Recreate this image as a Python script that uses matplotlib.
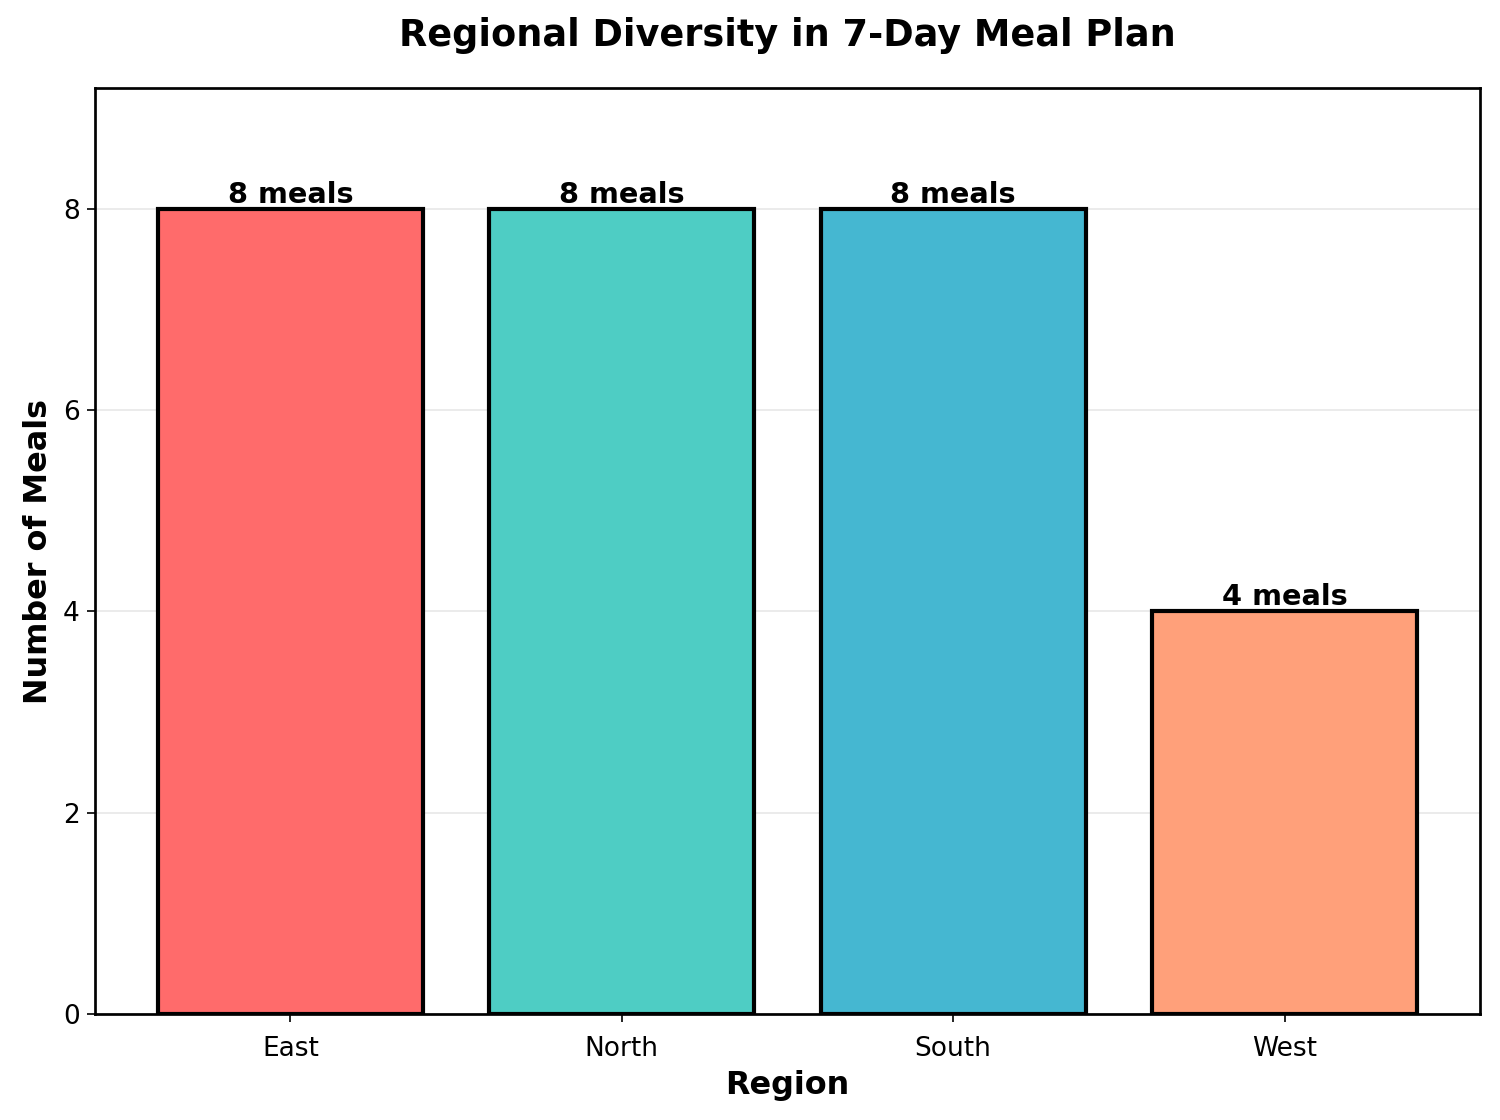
import numpy as np
import matplotlib
matplotlib.use("Agg")
import matplotlib.pyplot as plt

# data
regions = ["East", "North", "South", "West"]
meals = [8, 8, 8, 4]
colors = ["#FF6B6B", "#4ECDC4", "#45B7D1", "#FFA07A"]

fig, ax = plt.subplots(figsize=(10, 7.4667), dpi=150)
fig.subplots_adjust(left=0.0633, right=0.9867, top=0.9214, bottom=0.0946)

bars = ax.bar(regions, meals, color=colors, edgecolor="black", linewidth=2, width=0.8)

# labels on top of bars
for b, v in zip(bars, meals):
    ax.text(b.get_x() + b.get_width() / 2, b.get_height(), f"{v} meals",
            ha="center", va="bottom", fontsize=13.8, fontweight="bold")

ax.set_ylim(0, max(meals) * 1.15)
ax.set_title("Regional Diversity in 7-Day Meal Plan", fontsize=17.6, fontweight="bold", pad=20)
ax.set_xlabel("Region", fontsize=15.3, fontweight="bold")
ax.set_ylabel("Number of Meals", fontsize=15.3, fontweight="bold")
ax.tick_params(labelsize=12.7, length=3.9)
ax.tick_params(axis="x", pad=6.5)
ax.yaxis.grid(True, alpha=0.3)
ax.set_axisbelow(True)
for s in ax.spines.values():
    s.set_linewidth(1.3)

plt.savefig("out.png", dpi=150)
